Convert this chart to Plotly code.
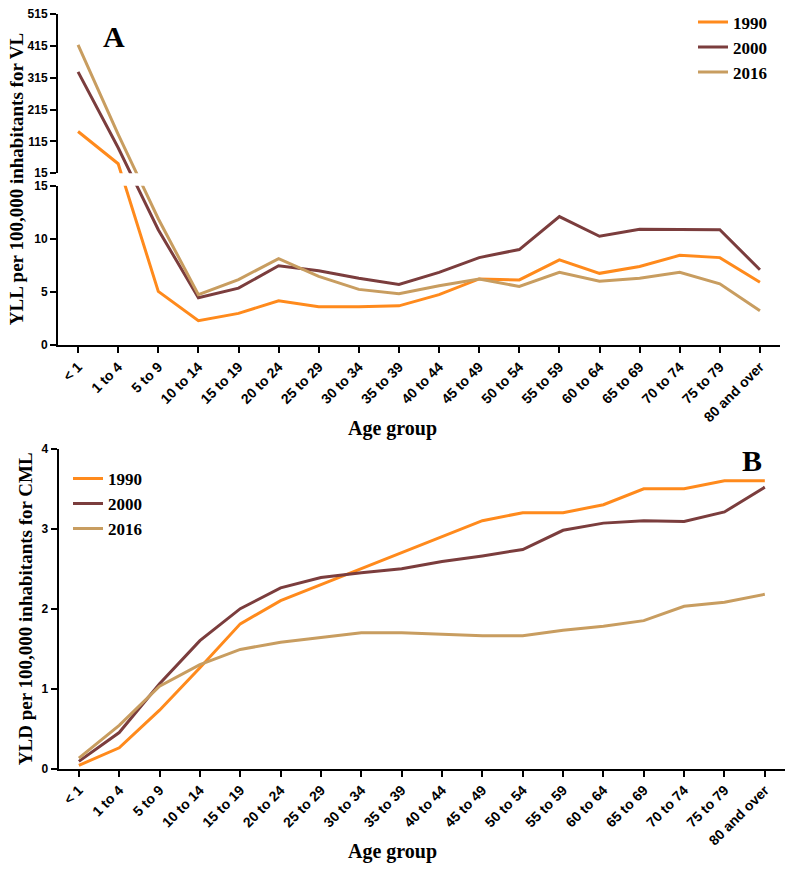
import plotly.graph_objects as go

W, H = 788, 870

age_groups = ["< 1", "1 to 4", "5 to 9", "10 to 14", "15 to 19", "20 to 24", "25 to 29",
              "30 to 34", "35 to 39", "40 to 44", "45 to 49", "50 to 54", "55 to 59",
              "60 to 64", "65 to 69", "70 to 74", "75 to 79", "80 and over"]
years = ["1990", "2000", "2016"]
colors = ["#FF8A1C", "#7B3D3D", "#C89D60"]

# panel A - YLL for VL
yll_1990 = [146, 45, 5.06, 2.31, 2.99, 4.17, 3.61, 3.61, 3.70, 4.75, 6.23, 6.14, 8.02, 6.76, 7.41, 8.45, 8.24, 5.93]
yll_2000 = [333, 95, 10.86, 4.47, 5.37, 7.47, 7.0, 6.3, 5.71, 6.85, 8.24, 9.0, 12.1, 10.25, 10.9, 10.86, 10.86, 7.1]
yll_2016 = [418, 137, 11.9, 4.75, 6.17, 8.15, 6.48, 5.25, 4.85, 5.6, 6.23, 5.52, 6.85, 6.02, 6.3, 6.85, 5.77, 3.24]

# panel B - YLD for CML
yld_1990 = [0.04, 0.26, 0.73, 1.26, 1.81, 2.1, 2.3, 2.5, 2.7, 2.9, 3.1, 3.2, 3.2, 3.3, 3.5, 3.5, 3.6, 3.6]
yld_2000 = [0.09, 0.45, 1.06, 1.6, 2.0, 2.26, 2.39, 2.45, 2.5, 2.59, 2.66, 2.74, 2.98, 3.07, 3.1, 3.09, 3.21, 3.52]
yld_2016 = [0.13, 0.54, 1.03, 1.3, 1.49, 1.58, 1.64, 1.70, 1.70, 1.68, 1.66, 1.66, 1.73, 1.78, 1.85, 2.03, 2.08, 2.18]

lower_ticks = [0, 5, 10, 15]
upper_ticks = [15, 115, 215, 315, 415, 515]
yld_ticks = [0, 1, 2, 3, 4]

# broken y axis of panel A: 0-15 on the lower part, 15-515 squeezed on the upper part
BREAK = 15
GAP = 1.2
SQUEEZE = 0.03


def upper_scale(v):
    return BREAK + GAP + (v - BREAK) * SQUEEZE


def broken(v):
    return v if v <= BREAK else upper_scale(v)


def py(px):
    return 1 - px / H


def px_x(px):
    return px / W


serif = "Liberation Serif"
sans = "Liberation Sans"

fig = go.Figure()

for year, vals, col in zip(years, [yll_1990, yll_2000, yll_2016], colors):
    fig.add_trace(go.Scatter(x=age_groups, y=[broken(v) for v in vals], mode="lines", name=year,
                             line=dict(color=col, width=3), xaxis="x", yaxis="y",
                             legend="legend"))
    fig.add_trace(go.Scatter(x=age_groups, y=[broken(v) for v in vals], mode="lines", name=year,
                             line=dict(color=col, width=3), xaxis="x2", yaxis="y2",
                             showlegend=False))

for year, vals, col in zip(years, [yld_1990, yld_2000, yld_2016], colors):
    fig.add_trace(go.Scatter(x=age_groups, y=vals, mode="lines", name=year,
                             line=dict(color=col, width=3), xaxis="x3", yaxis="y3",
                             legend="legend2"))

axis_style = dict(showline=True, linewidth=2, linecolor="black", ticks="outside",
                  ticklen=6, tickwidth=2, tickcolor="black", showgrid=False,
                  zeroline=False, tickfont=dict(family=sans, size=12, color="black", weight="bold"))

xa = dict(axis_style, type="category", range=[-0.5, 17.5], tickangle=-45,
          tickfont=dict(family=sans, size=14, color="black", weight="bold"),
          domain=[px_x(58), px_x(780)])

legend_font = dict(family=serif, size=17, color="black", weight="bold")

fig.update_layout(
    width=W, height=H,
    margin=dict(l=0, r=0, t=0, b=0),
    plot_bgcolor="white", paper_bgcolor="white",
    xaxis=dict(xa, anchor="y"),
    yaxis=dict(axis_style, range=[0, BREAK], tickvals=lower_ticks,
               domain=[py(343.7), py(181.7)], anchor="x"),
    xaxis2=dict(xa, matches="x", anchor="y2", visible=False),
    yaxis2=dict(axis_style, range=[upper_scale(15), upper_scale(515)],
                tickvals=[upper_scale(v) for v in upper_ticks],
                ticktext=[str(v) for v in upper_ticks],
                domain=[py(169), py(7)], anchor="x2"),
    xaxis3=dict(xa, anchor="y3", domain=[px_x(58.7), px_x(785)]),
    yaxis3=dict(axis_style, range=[0, 4], tickvals=yld_ticks,
                domain=[py(774), py(449)], anchor="x3"),
    legend=dict(x=px_x(693), y=py(41), xanchor="left", yanchor="middle",
                font=legend_font, bgcolor="rgba(0,0,0,0)", tracegroupgap=0),
    legend2=dict(x=px_x(68), y=py(505), xanchor="left", yanchor="middle",
                 font=legend_font, bgcolor="rgba(0,0,0,0)", tracegroupgap=0),
    showlegend=True,
)

title_font = dict(family=serif, size=19, color="black", weight="bold")
notes = [
    dict(text="A", x=114, y=30, font=dict(family=serif, size=30, color="black", weight="bold")),
    dict(text="B", x=752, y=461, font=dict(family=serif, size=30, color="black", weight="bold")),
    dict(text="Age group", x=392, y=428, font=dict(title_font, size=20)),
    dict(text="Age group", x=392, y=858, font=dict(title_font, size=20)),
    dict(text="YLL per 100,000 inhabitants for VL", x=16, y=175, font=title_font, textangle=-90),
    dict(text="YLD per 100,000 inhabitants for CML", x=25, y=612, font=title_font, textangle=-90),
]
for n in notes:
    fig.add_annotation(text=n["text"], x=px_x(n["x"]), y=py(n["y"]), xref="paper", yref="paper",
                       showarrow=False, font=n["font"], textangle=n.get("textangle", 0),
                       xanchor="center", yanchor="middle")

# the page's default body margin would push the figure 8px off the window
fig.write_html("out.html", config={"displayModeBar": False},
               post_script="document.body.style.margin = '0';")
